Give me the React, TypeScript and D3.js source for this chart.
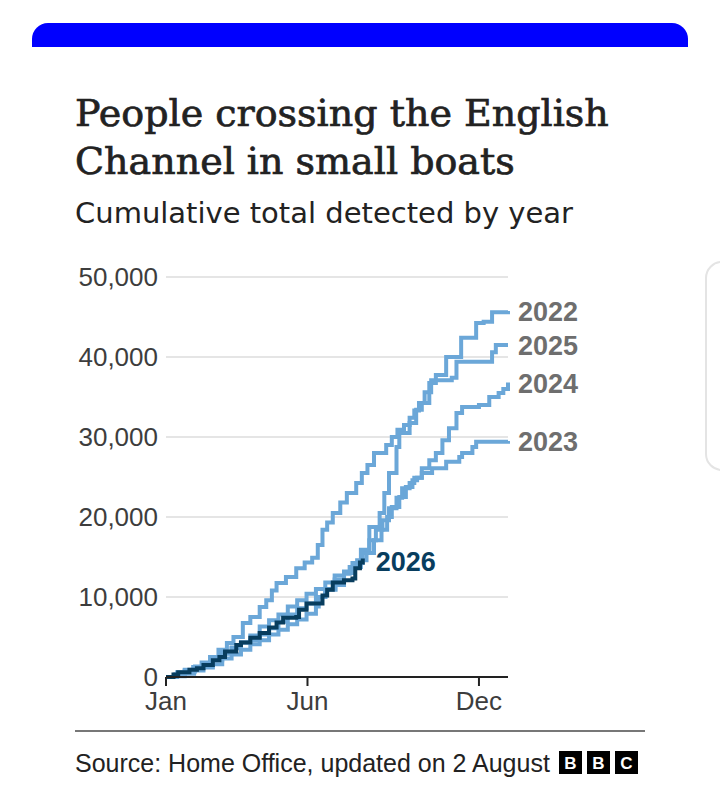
import * as React from 'react';
import * as d3 from 'd3';

// cumulative crossings, [day of year, people]
const crossings2022: [number, number][] = [
  [0, 0], [10, 300], [20, 700], [31, 1300], [40, 1600], [50, 2100], [60, 2900], [70, 3600],
  [80, 4300], [90, 5200], [100, 6300], [110, 7100], [120, 7800], [130, 8800], [140, 9600],
  [150, 10400], [160, 11000], [170, 11800], [180, 12700], [190, 13200], [199, 13750],
  [208, 15900], [217, 18750], [228, 20500], [233, 23000], [238, 25500], [246, 28750],
  [249, 30500], [260, 31750], [267, 33400], [273, 34250], [281, 36750], [288, 37750],
  [299, 40000], [315, 42400], [329, 42400], [331, 44250], [339, 44400], [348, 45600],
  [365, 45750],
];

const crossings2023: [number, number][] = [
  [0, 0], [10, 300], [20, 800], [31, 1200], [40, 1700], [50, 2400], [59, 3000], [70, 3700],
  [80, 4300], [90, 4600], [100, 5300], [110, 6100], [120, 6900], [130, 7800], [140, 8600],
  [150, 9200], [160, 10000], [170, 10900], [181, 11500], [190, 13000], [199, 14250],
  [210, 15500], [217, 17100], [224, 18400], [231, 19600], [238, 21100], [246, 22400],
  [252, 23600], [260, 24250], [265, 24900], [273, 25500], [284, 26100], [299, 26900],
  [313, 27500], [316, 28000], [327, 28750], [331, 29400], [365, 29500],
];

const crossings2024: [number, number][] = [
  [0, 0], [10, 100], [20, 400], [30, 800], [40, 1200], [50, 1600], [60, 2300], [70, 2800],
  [80, 3400], [90, 4100], [100, 4600], [110, 5300], [120, 5900], [130, 6600], [140, 7200],
  [150, 7900], [160, 8800], [163, 10000], [170, 11000], [180, 12200], [190, 12900],
  [196, 13750], [204, 14600], [214, 15500], [222, 17100], [230, 18400], [236, 20000],
  [241, 21250], [249, 22500], [256, 23750], [263, 24600], [268, 24900], [273, 26100],
  [281, 27100], [288, 28000], [295, 29600], [302, 31100], [310, 33000], [316, 33750],
  [334, 34000], [345, 35000], [355, 35500], [360, 36000], [365, 36800],
];

const crossings2025: [number, number][] = [
  [0, 0], [12, 600], [20, 900], [29, 1250], [38, 1800], [47, 2500], [56, 3400], [65, 4250],
  [72, 5000], [82, 6750], [90, 7500], [100, 8750], [107, 9600], [113, 10800], [118, 11750],
  [128, 12500], [139, 13600], [148, 14300], [156, 14900], [162, 16500], [167, 18400],
  [172, 19300], [178, 20500], [186, 21800], [193, 23000], [203, 24250], [209, 25500],
  [215, 26500], [222, 28000], [235, 29000], [241, 30000], [247, 30900], [254, 31500],
  [260, 32400], [265, 33300], [270, 34250], [276, 35600], [283, 37100], [305, 37400],
  [310, 39400], [345, 39400], [348, 40600], [352, 41500], [365, 41500],
];

const crossings2026: [number, number][] = [
  [0, 0], [8, 300], [13, 600], [25, 900], [33, 1100], [40, 1500], [50, 2100], [57, 2500],
  [63, 3200], [75, 4000], [80, 4300], [90, 4900], [100, 5500], [110, 6200], [118, 6800],
  [125, 7400], [139, 7500], [142, 8400], [150, 9200], [163, 9200], [167, 10200],
  [172, 10900], [178, 11800], [190, 12100], [199, 12300], [202, 13600], [207, 14300],
  [210, 14800],
];

const pastYears = [
  { year: '2023', values: crossings2023 },
  { year: '2024', values: crossings2024 },
  { year: '2022', values: crossings2022 },
  { year: '2025', values: crossings2025 },
];

const yTicks = [0, 10000, 20000, 30000, 40000, 50000];
const monthTicks = [0, 151, 334];
const monthLabels = ['Jan', 'Jun', 'Dec'];

const sans = "'Liberation Sans', Arial, sans-serif";
const wideSans = "'DejaVu Sans', sans-serif";
const serif = "'DejaVu Serif', serif";
const light = '#6ba7d8';
const dark = '#083d5e';

export default function App() {
  const x = d3.scaleLinear().domain([0, 365]).range([166, 508]);
  const y = d3.scaleLinear().domain([0, 50000]).range([677, 277]);
  const line = d3
    .line<[number, number]>()
    .x((d) => x(d[0]))
    .y((d) => y(d[1]))
    .curve(d3.curveStepAfter);
  const fmt = d3.format(',');

  return (
    <svg width={720} height={803} style={{ position: 'absolute', left: 0, top: 0, background: '#fff' }}>
      <path d="M32,47 V39 a16,16 0 0 1 16,-16 H672 a16,16 0 0 1 16,16 V47 Z" fill="#0000ff" />
      <rect x={706} y={262} width={40} height={208} rx={16} fill="#fff" stroke="#e4e4e4" strokeWidth={2} />

      <g fontFamily={serif} fontSize={38} fill="#222" stroke="#222" strokeWidth={0.7}>
        <text x={75} y={126}>People crossing the English</text>
        <text x={75} y={174}>Channel in small boats</text>
      </g>
      <text x={75} y={223} fontFamily={wideSans} fontSize={29} fill="#222">Cumulative total detected by year</text>

      {yTicks.map((t) => (
        <g key={t}>
          {t > 0 && <line x1={x(0)} x2={x(365)} y1={y(t)} y2={y(t)} stroke="#e5e5e5" strokeWidth={2} />}
          <text x={158} y={y(t) + 9} textAnchor="end" fontFamily={sans} fontSize={26} fill="#3d3d3d">
            {fmt(t)}
          </text>
        </g>
      ))}

      {pastYears.map((s) => (
        <path key={s.year} d={line(s.values) || ''} fill="none" stroke={light} strokeWidth={4} />
      ))}
      <path d={line(crossings2026) || ''} fill="none" stroke={dark} strokeWidth={4} />

      <line x1={x(0)} x2={x(365)} y1={y(0)} y2={y(0)} stroke="#222" strokeWidth={2} />
      {monthTicks.map((t, i) => (
        <g key={t}>
          <line x1={x(t)} x2={x(t)} y1={y(0)} y2={y(0) + 9} stroke="#222" strokeWidth={2} />
          <text x={x(t)} y={710} textAnchor="middle" fontFamily={sans} fontSize={26} fill="#3d3d3d">
            {monthLabels[i]}
          </text>
        </g>
      ))}

      {pastYears.map((s) => {
        const last = s.values[s.values.length - 1];
        return (
          <text key={s.year} x={518} y={y(last[1]) + 10} fontFamily={sans} fontSize={27} fontWeight="bold" fill="#6e6e6e">
            {s.year}
          </text>
        );
      })}
      <text
        x={x(crossings2026[crossings2026.length - 1][0]) + 13}
        y={571}
        fontFamily={sans}
        fontSize={27}
        fontWeight="bold"
        fill={dark}
      >
        2026
      </text>

      <line x1={75} x2={645} y1={731} y2={731} stroke="#777" strokeWidth={2} />
      <text x={75} y={772} fontFamily={sans} fontSize={25} fill="#222">
        Source: Home Office, updated on 2 August
      </text>
      {['B', 'B', 'C'].map((c, i) => (
        <g key={i}>
          <rect x={559 + i * 28} y={751} width={23} height={23} fill="#000" />
          <text x={559 + i * 28 + 11.5} y={769} textAnchor="middle" fontFamily={sans} fontSize={17} fontWeight="bold" fill="#fff">
            {c}
          </text>
        </g>
      ))}
    </svg>
  );
}
